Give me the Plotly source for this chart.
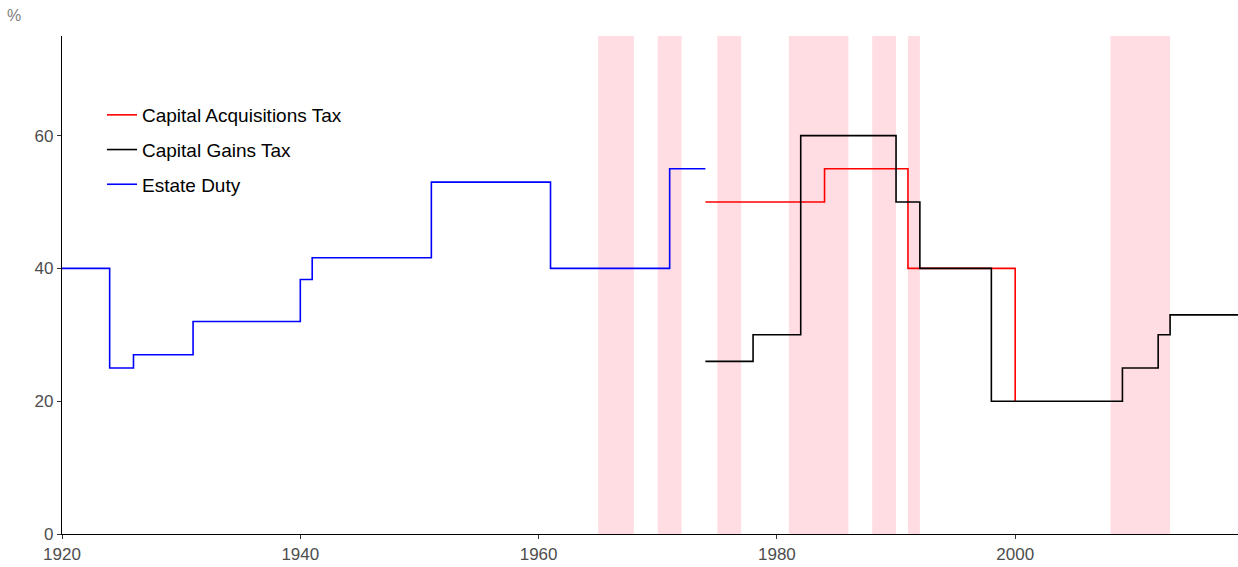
import plotly.graph_objects as go

# Shaded periods (start, end years)
shade_start = [1965, 1970, 1975, 1981, 1988, 1991, 2008]
shade_end = [1968, 1972, 1977, 1986, 1990, 1992, 2013]

# Capital Acquisitions Tax
cat_year = [1974, 1984, 1991, 2000]
cat_rate = [50, 55, 40, 20]

# Capital Gains Tax
cgt_year = [1974, 1978, 1982, 1990, 1992, 1998, 2009, 2012, 2013, 2018.7]
cgt_rate = [26, 30, 60, 50, 40, 20, 25, 30, 33, 33]

# Estate Duty
ed_year = [1920, 1924, 1926, 1931, 1940, 1941, 1951, 1961, 1971, 1974]
ed_rate = [40, 25, 27, 32, 38.33, 41.6, 53, 40, 55, 55]

y_ticks = [0, 20, 40, 60]
x_ticks = [1920, 1940, 1960, 1980, 2000]

fig = go.Figure()

series = [
    ("Capital Acquisitions Tax", cat_year, cat_rate, "#FF0000"),
    ("Capital Gains Tax", cgt_year, cgt_rate, "#000000"),
    ("Estate Duty", ed_year, ed_rate, "#0000FF"),
]
for i, (name, xs, ys, col) in enumerate(series):
    fig.add_trace(go.Scatter(
        x=xs, y=ys, name=name, mode="lines",
        line=dict(color=col, width=1.6, shape="hv"),
        legendgroup=f"g{i}",
    ))

for s, e in zip(shade_start, shade_end):
    fig.add_shape(type="rect", xref="x", yref="y", x0=s, x1=e, y0=0, y1=75,
                  fillcolor="rgb(255,221,227)", line_width=0, layer="below")

fig.add_annotation(text="%", xref="paper", yref="paper",
                   x=(14 - 62) / 1176, y=(534 - 16) / 498,
                   xanchor="center", yanchor="middle", showarrow=False,
                   font=dict(size=16, color="#808080"))

axis_common = dict(showline=True, linecolor="#000000", linewidth=1.3,
                   ticks="outside", ticklen=4, tickcolor="#333333",
                   showgrid=False, zeroline=False,
                   tickfont=dict(size=17, color="#4d4d4d"))

fig.update_layout(
    width=1238, height=567,
    margin=dict(l=62, r=0, t=36, b=33),
    plot_bgcolor="white", paper_bgcolor="white",
    font=dict(family="Liberation Sans, Arial, sans-serif"),
    xaxis=dict(range=[1920, 2018.7], tickvals=x_ticks, **axis_common),
    yaxis=dict(range=[0, 75], tickvals=y_ticks, **axis_common),
    legend=dict(x=(102 - 62) / 1176, y=(534 - 96) / 498,
                xanchor="left", yanchor="top",
                font=dict(size=19, color="#000000"),
                traceorder="grouped", tracegroupgap=7,
                bgcolor="rgba(0,0,0,0)"),
    showlegend=True,
)

fig.write_html("out.html",
               config={"displayModeBar": False},
               post_script="document.body.style.margin='0';document.body.style.overflow='hidden';")
